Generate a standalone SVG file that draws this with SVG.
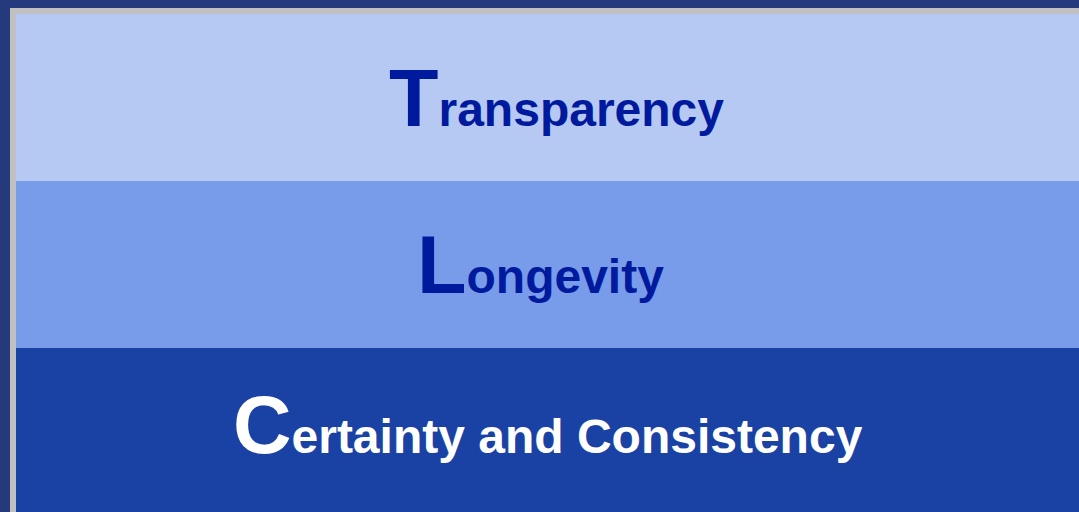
<svg xmlns="http://www.w3.org/2000/svg" width="1079" height="512" viewBox="0 0 1079 512">
<style>
.t{font-family:"Liberation Sans",Arial,sans-serif;font-weight:bold;font-size:48px}
.big{font-size:81px}
.dark{fill:#001a9e}
.light{fill:#ffffff}
</style>
<rect x="0" y="0" width="1079" height="512" fill="#243a7c"/>
<rect x="10" y="8" width="1069" height="504" fill="#c0c0c0"/>
<g id="transparency">
<rect x="16" y="14" width="1063" height="167" fill="#b6c9f3"/>
<text class="t dark" x="389" y="126"><tspan class="big">T</tspan>ransparency</text>
</g>
<g id="longevity">
<rect x="16" y="181" width="1063" height="167" fill="#789bea"/>
<text class="t dark" x="417" y="293"><tspan class="big">L</tspan>ongevity</text>
</g>
<g id="certainty">
<rect x="16" y="348" width="1063" height="164" fill="#1a42a4"/>
<text class="t light" x="233" y="453"><tspan class="big">C</tspan>ertainty and Consistency</text>
</g>
<g id="connectors"/>
</svg>
